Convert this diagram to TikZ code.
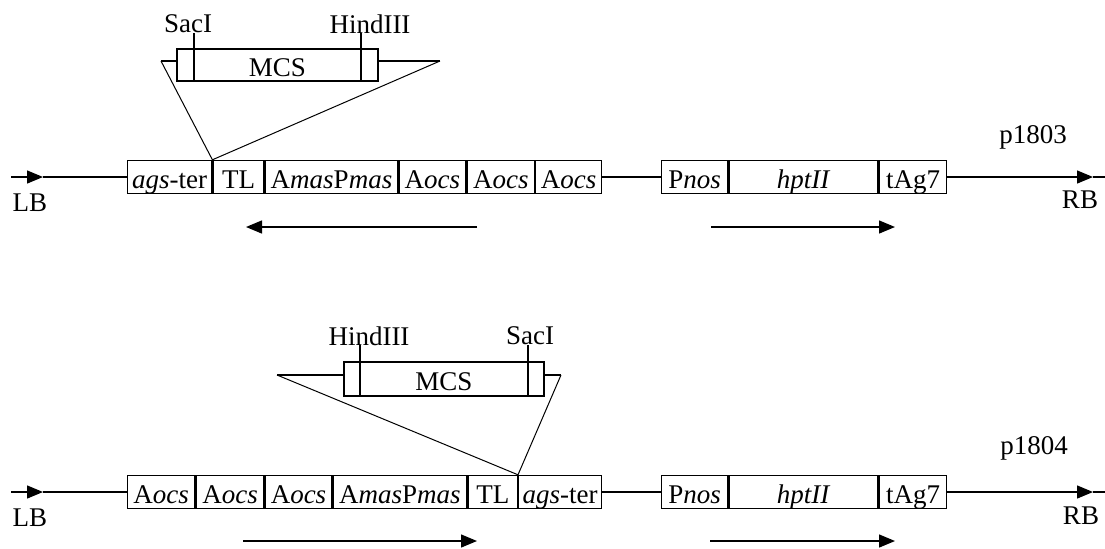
\documentclass[tikz,border=0pt]{standalone}
\usepackage{fontspec}
\setmainfont{Liberation Serif}
\usetikzlibrary{positioning}
\usetikzlibrary{arrows.meta}

\begin{document}
\begin{tikzpicture}
	[x=0.5pt, y=-0.5pt,
	seg/.style={draw, line width=0.7pt, minimum height=16.5pt, inner sep=0pt,
		text height=13.5pt, text depth=2.5pt, font=\fontsize{13.5}{15}\selectfont},
	lbl/.style={inner sep=0pt, font=\fontsize{13.5}{15}\selectfont},
	readarrow/.style={-{Triangle[length=8pt,width=6.5pt]}, line width=0.7pt},
	strand/.style={line width=0.7pt},
	cutline/.style={line width=0.5pt}]

	\useasboundingbox (0,0) rectangle (1105,548);

	% p1803
	\begin{scope}
		\coordinate (lb) at (11,177);
		\coordinate (lbtip) at (43,177);
		\coordinate (rbtip) at (1093,177);
		\coordinate (rb) at (1105,177);

		\node[seg, minimum width=42pt, anchor=west] (1) at (127,177) {\textit{ags}-ter};
		\node[seg, minimum width=25.5pt, right=0pt of 1] (2) {TL};
		\node[seg, minimum width=66pt, right=0pt of 2] (3) {A\textit{mas}P\textit{mas}};
		\node[seg, minimum width=33.5pt, right=0pt of 3] (4) {A\textit{ocs}};
		\node[seg, minimum width=33.5pt, right=0pt of 4] (5) {A\textit{ocs}};
		\node[seg, minimum width=33pt, right=0pt of 5] (6) {A\textit{ocs}};

		\node[seg, minimum width=33pt, anchor=west] (pnos) at (661,177) {P\textit{nos}};
		\node[seg, minimum width=74.5pt, right=0pt of pnos] (hpt) {\textit{hptII}};
		\node[seg, minimum width=33.5pt, right=0pt of hpt] (tag) {tAg7};

		\draw[readarrow] (lb) -- (lbtip);
		\draw[strand] (lbtip) -- (1.west);
		\draw[strand] (6.east) -- (pnos.west);
		\draw[readarrow] (tag.east) -- (rbtip);
		\draw[strand] (rbtip) -- (rb);

		\node[lbl] (lbl) at (30,203) {LB};
		\node[lbl] (rbl) at (1080,200) {RB};
		\node[lbl] (name) at (1033,137) {p1803};

		% insert
		\node[seg, minimum width=100.5pt, minimum height=16pt] (mcs) at (277.5,65) {MCS};
		\coordinate (ml) at (161,61);
		\coordinate (mr) at (440,61);
		\coordinate (sac) at (194,33);
		\coordinate (hind) at (361,33);
		\node[lbl] (saclbl) at (188,24) {SacI};
		\node[lbl] (hindlbl) at (370,24) {HindIII};
		\draw[strand] (sac) -- (sac |- mcs.south);
		\draw[strand] (hind) -- (hind |- mcs.south);
		\draw[strand] (ml) -- (mcs.west |- ml);
		\draw[strand] (mcs.east |- mr) -- (mr);
		\draw[cutline] (ml) -- (1.north east) -- (mr);

		\coordinate (ta) at (477,227);
		\coordinate (tb) at (246,227);
		\coordinate (tc) at (711,227);
		\coordinate (td) at (895,227);
		\draw[readarrow] (ta) -- (tb);
		\draw[readarrow] (tc) -- (td);
	\end{scope}

	% p1804
	\begin{scope}[yshift=-157.5pt]
		\coordinate (lb) at (11,177);
		\coordinate (lbtip) at (43,177);
		\coordinate (rbtip) at (1093,177);
		\coordinate (rb) at (1105,177);

		\node[seg, minimum width=33.5pt, anchor=west] (1) at (127,177) {A\textit{ocs}};
		\node[seg, minimum width=34pt, right=0pt of 1] (2) {A\textit{ocs}};
		\node[seg, minimum width=33pt, right=0pt of 2] (3) {A\textit{ocs}};
		\node[seg, minimum width=67pt, right=0pt of 3] (4) {A\textit{mas}P\textit{mas}};
		\node[seg, minimum width=24.5pt, right=0pt of 4] (5) {TL};
		\node[seg, minimum width=41.5pt, right=0pt of 5] (6) {\textit{ags}-ter};

		\node[seg, minimum width=33pt, anchor=west] (pnos) at (661,177) {P\textit{nos}};
		\node[seg, minimum width=74.5pt, right=0pt of pnos] (hpt) {\textit{hptII}};
		\node[seg, minimum width=33.5pt, right=0pt of hpt] (tag) {tAg7};

		\draw[readarrow] (lb) -- (lbtip);
		\draw[strand] (lbtip) -- (1.west);
		\draw[strand] (6.east) -- (pnos.west);
		\draw[readarrow] (tag.east) -- (rbtip);
		\draw[strand] (rbtip) -- (rb);

		\node[lbl] (lbl) at (30,203) {LB};
		\node[lbl] (rbl) at (1081,201) {RB};
		\node[lbl] (name) at (1034,133) {p1804};

		% insert
		\node[seg, minimum width=100pt, minimum height=17pt] (mcs) at (444,64) {MCS};
		\coordinate (ml) at (277,60);
		\coordinate (mr) at (561,60);
		\coordinate (hind) at (360,30);
		\coordinate (sac) at (528,30);
		\node[lbl] (hindlbl) at (369,21) {HindIII};
		\node[lbl] (saclbl) at (530,21) {SacI};
		\draw[strand] (hind) -- (hind |- mcs.south);
		\draw[strand] (sac) -- (sac |- mcs.south);
		\draw[strand] (ml) -- (mcs.west |- ml);
		\draw[strand] (mcs.east |- mr) -- (mr);
		\draw[cutline] (ml) -- (5.north east) -- (mr);

		\coordinate (ta) at (243,226);
		\coordinate (tb) at (477,226);
		\coordinate (tc) at (710,226);
		\coordinate (td) at (895,226);
		\draw[readarrow] (ta) -- (tb);
		\draw[readarrow] (tc) -- (td);
	\end{scope}

\end{tikzpicture}
\end{document}
